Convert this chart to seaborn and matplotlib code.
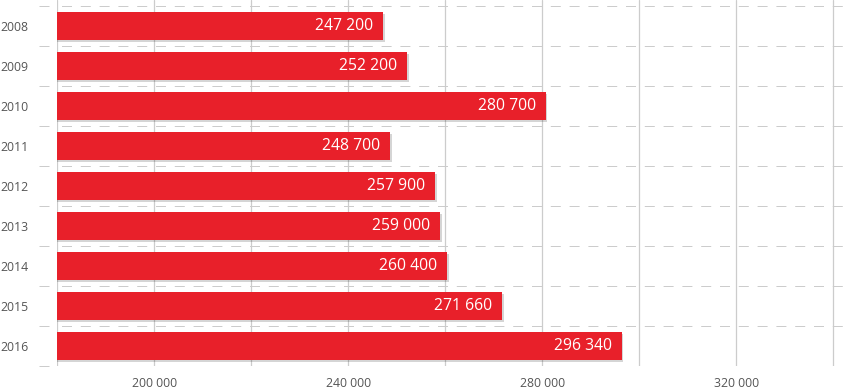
import numpy as np
import pandas as pd
import matplotlib
matplotlib.use("Agg")
import matplotlib.pyplot as plt
import matplotlib.patheffects as pe
import seaborn as sns

years = ["2008", "2009", "2010", "2011", "2012", "2013", "2014", "2015", "2016"]
values = [247200, 252200, 280700, 248700, 257900, 259000, 260400, 271660, 296340]
grid_ticks = [180000, 200000, 220000, 240000, 260000, 280000, 300000, 320000, 340000]
labeled_ticks = [200000, 240000, 280000, 320000]

sns.set_theme(style="white")
plt.rcParams["font.family"] = ["Open Sans", "DejaVu Sans"]

df = pd.DataFrame({"year": years, "value": values})

fig = plt.figure(figsize=(8.47, 3.89), dpi=100)
ax = fig.add_axes([57.3 / 847, 23 / 389, 1 - 57.3 / 847, 366 / 389])

sns.barplot(data=df, x="value", y="year", color="#E8202A", saturation=1,
            width=0.7, ax=ax, zorder=3, linewidth=0)

for p in ax.patches:
    p.set_path_effects([pe.SimplePatchShadow(offset=(1.2, -1.5), shadow_rgbFace="k", alpha=0.18),
                        pe.Normal()])

fmt = lambda v: f"{v:,}".replace(",", " ")

for i, v in enumerate(values):
    ax.annotate(fmt(v), xy=(v, i), xytext=(-10, 0), textcoords="offset pixels",
                ha="right", va="center", color="white", fontsize=11.3, zorder=4)

ax.set_xlim(180000, 180000 + (847 - 57.3) / 97 * 20000)
ax.set_ylim(len(years) - 0.5, -0.5 - 6 / 40)

ax.set_xticks(grid_ticks)
ax.set_xticklabels([fmt(t) if t in labeled_ticks else "" for t in grid_ticks])
ax.set_yticks(np.arange(-0.5, len(years), 1), minor=True)

ax.set_axisbelow(True)
ax.xaxis.grid(True, which="major", color="#cccccc", lw=0.9)
ax.yaxis.grid(True, which="minor", color="#cccccc", lw=0.72, linestyle=(14.3, (10, 8.8)))
ax.yaxis.grid(False, which="major")

for s in ["top", "right", "bottom"]:
    ax.spines[s].set_visible(False)
ax.spines["left"].set_position(("outward", 5.8))
ax.spines["left"].set_visible(False)

ax.tick_params(axis="x", which="major", length=3, width=0.9, color="#cccccc",
               pad=5, labelsize=8.8, labelcolor="#555555")
ax.tick_params(axis="y", which="major", length=0, pad=15, labelsize=8.8, labelcolor="#555555")
ax.tick_params(axis="y", which="minor", length=7.2, width=0.72, color="#cccccc", left=True)

ax.set_xlabel("")
ax.set_ylabel("")

fig.savefig("out.png", dpi=100)
